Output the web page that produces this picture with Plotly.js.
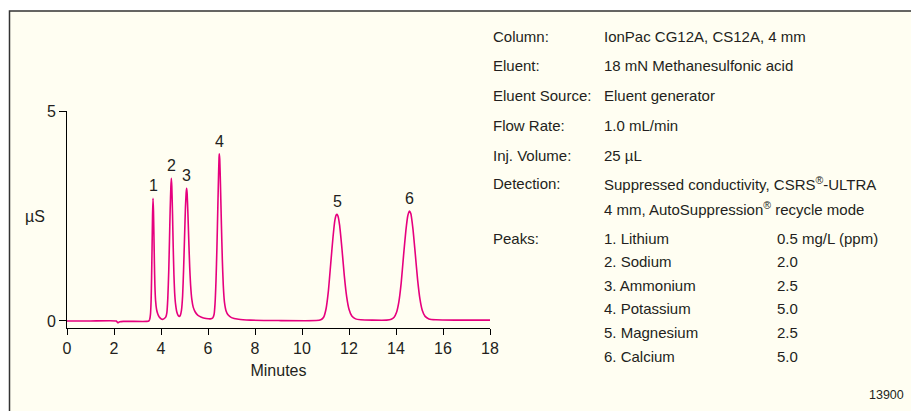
<!DOCTYPE html>
<html>
<head>
<meta charset="utf-8">
<script src="https://cdn.plot.ly/plotly-3.0.1.min.js"></script>
<style>html,body{margin:0;padding:0;background:#fff;}#chart{width:911px;height:411px;}</style>
</head>
<body>
<div id="chart"></div>
<script>
// ---- data ----
var timeMin = [0, 1.0, 2.10, 2.16, 2.24, 2.40, 3.40, 3.48, 3.52, 3.55, 3.58, 3.60, 3.62, 3.64, 3.66, 3.68, 3.70, 3.72, 3.74, 3.77, 3.81, 3.86, 3.92, 3.98, 4.04,
  4.12, 4.20, 4.25, 4.29, 4.33, 4.36, 4.39, 4.42, 4.44, 4.46, 4.49, 4.52, 4.55, 4.58, 4.62, 4.67, 4.73, 4.77,
  4.82, 4.87, 4.92, 4.96, 5.00, 5.04, 5.07, 5.09, 5.11, 5.14, 5.18, 5.22, 5.26, 5.31, 5.37, 5.45, 5.56, 5.72, 5.92, 6.10,
  6.20, 6.26, 6.30, 6.34, 6.38, 6.42, 6.45, 6.47, 6.48, 6.50, 6.53, 6.57, 6.61, 6.65, 6.70, 6.77, 6.86, 7.00, 7.30, 7.80, 9.0, 10.60,
  10.80, 10.92, 11.02, 11.12, 11.22, 11.32, 11.40, 11.46, 11.49, 11.53, 11.60, 11.70, 11.80, 11.90, 12.00, 12.12, 12.28, 12.50, 13.0, 13.60,
  13.80, 13.92, 14.02, 14.12, 14.22, 14.32, 14.42, 14.50, 14.57, 14.63, 14.72, 14.82, 14.92, 15.02, 15.12, 15.24, 15.40, 15.70, 16.5, 18.0];
var signalUS = [0.00, 0.00, 0.00, -0.04, -0.02, -0.01, -0.01, 0.00, 0.04, 0.15, 0.50, 1.05, 1.75, 2.50, 2.92, 2.62, 2.00, 1.35, 0.85, 0.48, 0.28, 0.17, 0.10, 0.06, 0.04,
  0.05, 0.09, 0.20, 0.55, 1.20, 1.90, 2.65, 3.20, 3.40, 3.20, 2.55, 1.75, 1.10, 0.68, 0.40, 0.22, 0.13, 0.11,
  0.13, 0.25, 0.60, 1.20, 1.95, 2.70, 3.05, 3.16, 3.05, 2.65, 1.95, 1.30, 0.85, 0.52, 0.33, 0.22, 0.14, 0.09, 0.06, 0.05,
  0.07, 0.16, 0.42, 0.95, 1.75, 2.75, 3.50, 3.88, 3.98, 3.85, 3.25, 2.30, 1.45, 0.85, 0.45, 0.24, 0.14, 0.08, 0.04, 0.02, 0.01, 0.01,
  0.03, 0.09, 0.28, 0.70, 1.35, 2.00, 2.40, 2.53, 2.54, 2.50, 2.28, 1.72, 1.08, 0.58, 0.28, 0.12, 0.05, 0.03, 0.02, 0.02,
  0.04, 0.09, 0.20, 0.45, 0.90, 1.55, 2.15, 2.50, 2.62, 2.56, 2.20, 1.60, 0.98, 0.52, 0.25, 0.11, 0.05, 0.03, 0.02, 0.02];

var peakLabels = ["1", "2", "3", "4", "5", "6"];
var peakTimes = [3.66, 4.44, 5.09, 6.48, 11.49, 14.57];
var peakHeights = [2.92, 3.40, 3.16, 3.98, 2.54, 2.62];

var xTickVals = [0, 2, 4, 6, 8, 10, 12, 14, 16, 18];
var yTickVals = [0, 5];

var condLabels = ["Column:", "Eluent:", "Eluent Source:", "Flow Rate:", "Inj. Volume:", "Detection:"];
var condValues = ["IonPac CG12A, CS12A, 4 mm", "18 mN Methanesulfonic acid", "Eluent generator", "1.0 mL/min", "25 µL",
  "Suppressed conductivity, CSRS<sup>®</sup>-ULTRA", "4 mm, AutoSuppression<sup>®</sup> recycle mode"];
var peakNames = ["1. Lithium", "2. Sodium", "3. Ammonium", "4. Potassium", "5. Magnesium", "6. Calcium"];
var peakConc = ["0.5 mg/L (ppm)", "2.0", "2.5", "5.0", "2.5", "5.0"];
var figureId = "13900";

// ---- layout geometry (pixels) ----
var W = 911, H = 411;
var M = {l: 67, r: 421, t: 111, b: 83};
var plotW = W - M.l - M.r, plotH = H - M.t - M.b;
function px(x) { return (x - M.l) / plotW; }
function py(y) { return (H - M.b - y) / plotH; }

var FONT = '"Liberation Sans", Arial, sans-serif';
var TXT = '#231f20';
var FS = 15;      // info block
var FA = 16;      // axis / peak labels

var annotations = [];
function addText(xp, yp, text, anchor, size) {
  annotations.push({x: px(xp), y: py(yp), xref: 'paper', yref: 'paper', text: text, showarrow: false,
    xanchor: anchor, yanchor: 'middle', font: {family: FONT, size: size, color: TXT}});
}
for (var i = 0; i < peakLabels.length; i++) {
  annotations.push({x: peakTimes[i], y: peakHeights[i], xref: 'x', yref: 'y', text: peakLabels[i],
    showarrow: false, yanchor: 'bottom', yshift: 2, font: {family: FONT, size: FA, color: TXT}});
}
addText(35, 216, 'µS', 'center', FA);

var topRowsY = [37, 65, 95, 125, 155, 183, 208];
for (var j = 0; j < condValues.length; j++) {
  if (j < condLabels.length) addText(491, topRowsY[j], condLabels[j], 'left', FS);
  addText(602, topRowsY[j], condValues[j], 'left', FS);
}
var peakRowsY = [238, 261, 285, 308, 332, 356];
addText(491, peakRowsY[0], 'Peaks:', 'left', FS);
for (var k = 0; k < peakNames.length; k++) {
  addText(602, peakRowsY[k], peakNames[k], 'left', FS);
  addText(775, peakRowsY[k], peakConc[k], 'left', FS);
}
addText(906, 395, figureId, 'right', 12.5);

var trace = {x: timeMin, y: signalUS, type: 'scatter', mode: 'lines',
  line: {color: '#e6007e', width: 1.6, shape: 'spline', smoothing: 0.5}, hoverinfo: 'skip'};

var layout = {
  width: W, height: H,
  margin: M,
  paper_bgcolor: '#ffffff', plot_bgcolor: 'rgba(0,0,0,0)',
  showlegend: false,
  font: {family: FONT, size: FS, color: TXT},
  xaxis: {range: [0, 18], tickvals: xTickVals, ticks: 'outside', ticklen: 6, tickwidth: 1, tickcolor: '#000',
    showline: true, linecolor: '#000', linewidth: 1, showgrid: false, zeroline: false,
    tickfont: {family: FONT, size: FA, color: TXT},
    title: {text: 'Minutes', font: {family: FONT, size: FA, color: TXT}, standoff: 8}},
  yaxis: {range: [-0.167, 5], tickvals: yTickVals, ticks: 'outside', ticklen: 7, tickwidth: 1, tickcolor: '#000',
    showline: true, linecolor: '#000', linewidth: 1, showgrid: false, zeroline: false,
    tickfont: {family: FONT, size: FA, color: TXT}},
  shapes: [{type: 'rect', xref: 'paper', yref: 'paper', layer: 'below',
    x0: px(9.5), x1: px(915), y0: py(415), y1: py(11),
    line: {color: '#333', width: 1.5}, fillcolor: '#fffef2'}],
  annotations: annotations
};

Plotly.newPlot('chart', [trace], layout, {displayModeBar: false, staticPlot: true});
</script>
</body>
</html>
